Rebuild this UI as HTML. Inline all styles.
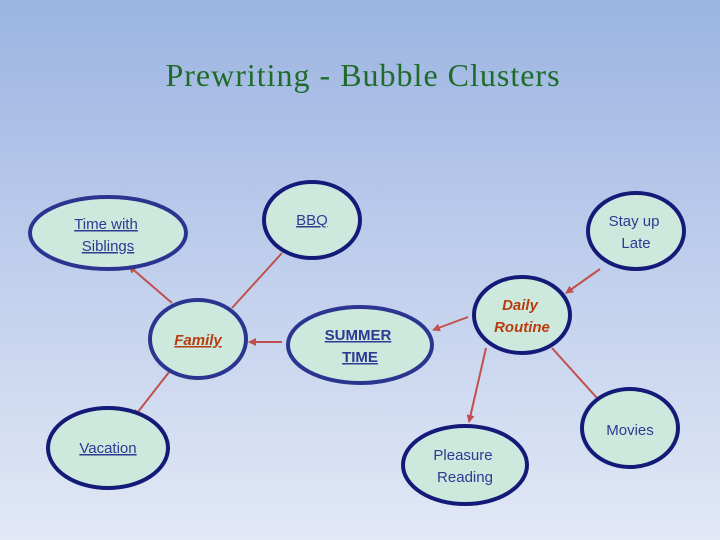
<!DOCTYPE html>
<html><head><meta charset="utf-8"><style>
html,body{margin:0;padding:0;width:720px;height:540px;overflow:hidden}
svg{display:block}
text{font-family:"Liberation Sans",sans-serif;font-size:15px;text-anchor:middle;fill:#2c3a92}
</style></head><body>
<svg width="720" height="540" viewBox="0 0 720 540">
<defs>
<linearGradient id="bg" x1="0" y1="0" x2="0" y2="1">
<stop offset="0" stop-color="#9bb4e2"/><stop offset="0.5" stop-color="#c0cfec"/><stop offset="1" stop-color="#e2e8f6"/>
</linearGradient>
<marker id="ar" markerWidth="8" markerHeight="8" refX="7" refY="4" orient="auto" markerUnits="userSpaceOnUse">
<path d="M0,0 L8,4 L0,8 z" fill="#c0504d"/></marker>
</defs>
<rect width="720" height="540" fill="url(#bg)"/>
<text x="363" y="86" style="font-family:'Liberation Serif',serif;font-size:32px;letter-spacing:1px;fill:#1e6b2a">Prewriting - Bubble Clusters</text>
<g stroke="#c0504d" stroke-width="2" fill="none">
<line x1="172" y1="303" x2="129" y2="266" marker-end="url(#ar)"/>
<line x1="232" y1="308" x2="282" y2="253"/>
<line x1="282" y1="342" x2="249" y2="342" marker-end="url(#ar)"/>
<line x1="173" y1="367" x2="134" y2="417" marker-end="url(#ar)"/>
<line x1="468" y1="317" x2="433" y2="330" marker-end="url(#ar)"/>
<line x1="600" y1="269" x2="566" y2="293" marker-end="url(#ar)"/>
<line x1="486" y1="348" x2="469" y2="422" marker-end="url(#ar)"/>
<line x1="552" y1="348" x2="597" y2="398"/>
</g>
<g fill="#cde9de" stroke-width="4">
<ellipse cx="108" cy="233" rx="78" ry="36" stroke="#2b3590"/>
<ellipse cx="312" cy="220" rx="48" ry="38" stroke="#141a78"/>
<ellipse cx="198" cy="339" rx="48" ry="39" stroke="#2b3590"/>
<ellipse cx="360" cy="345" rx="72" ry="38" stroke="#2b3590"/>
<ellipse cx="108" cy="448" rx="60" ry="40" stroke="#141a78"/>
<ellipse cx="636" cy="231" rx="48" ry="38" stroke="#141a78"/>
<ellipse cx="522" cy="315" rx="48" ry="38" stroke="#141a78"/>
<ellipse cx="630" cy="428" rx="48" ry="39" stroke="#141a78"/>
<ellipse cx="465" cy="465" rx="62" ry="39" stroke="#141a78"/>
</g>
<g>
<text x="106" y="229" text-decoration="underline">Time with</text>
<text x="108" y="251" text-decoration="underline">Siblings</text>
<text x="312" y="225" text-decoration="underline">BBQ</text>
<text x="198" y="345" text-decoration="underline" style="fill:#b83c0e;font-style:italic;font-weight:bold">Family</text>
<text x="358" y="340" text-decoration="underline" style="font-weight:bold">SUMMER</text>
<text x="360" y="362" text-decoration="underline" style="font-weight:bold">TIME</text>
<text x="108" y="453" text-decoration="underline">Vacation</text>
</g>
<text x="634" y="226">Stay up</text>
<text x="636" y="248">Late</text>
<text x="520" y="310" style="fill:#b83c0e;font-style:italic;font-weight:bold">Daily</text>
<text x="522" y="332" style="fill:#b83c0e;font-style:italic;font-weight:bold">Routine</text>
<text x="630" y="435">Movies</text>
<text x="463" y="460">Pleasure</text>
<text x="465" y="482">Reading</text>
</svg>
</body></html>
